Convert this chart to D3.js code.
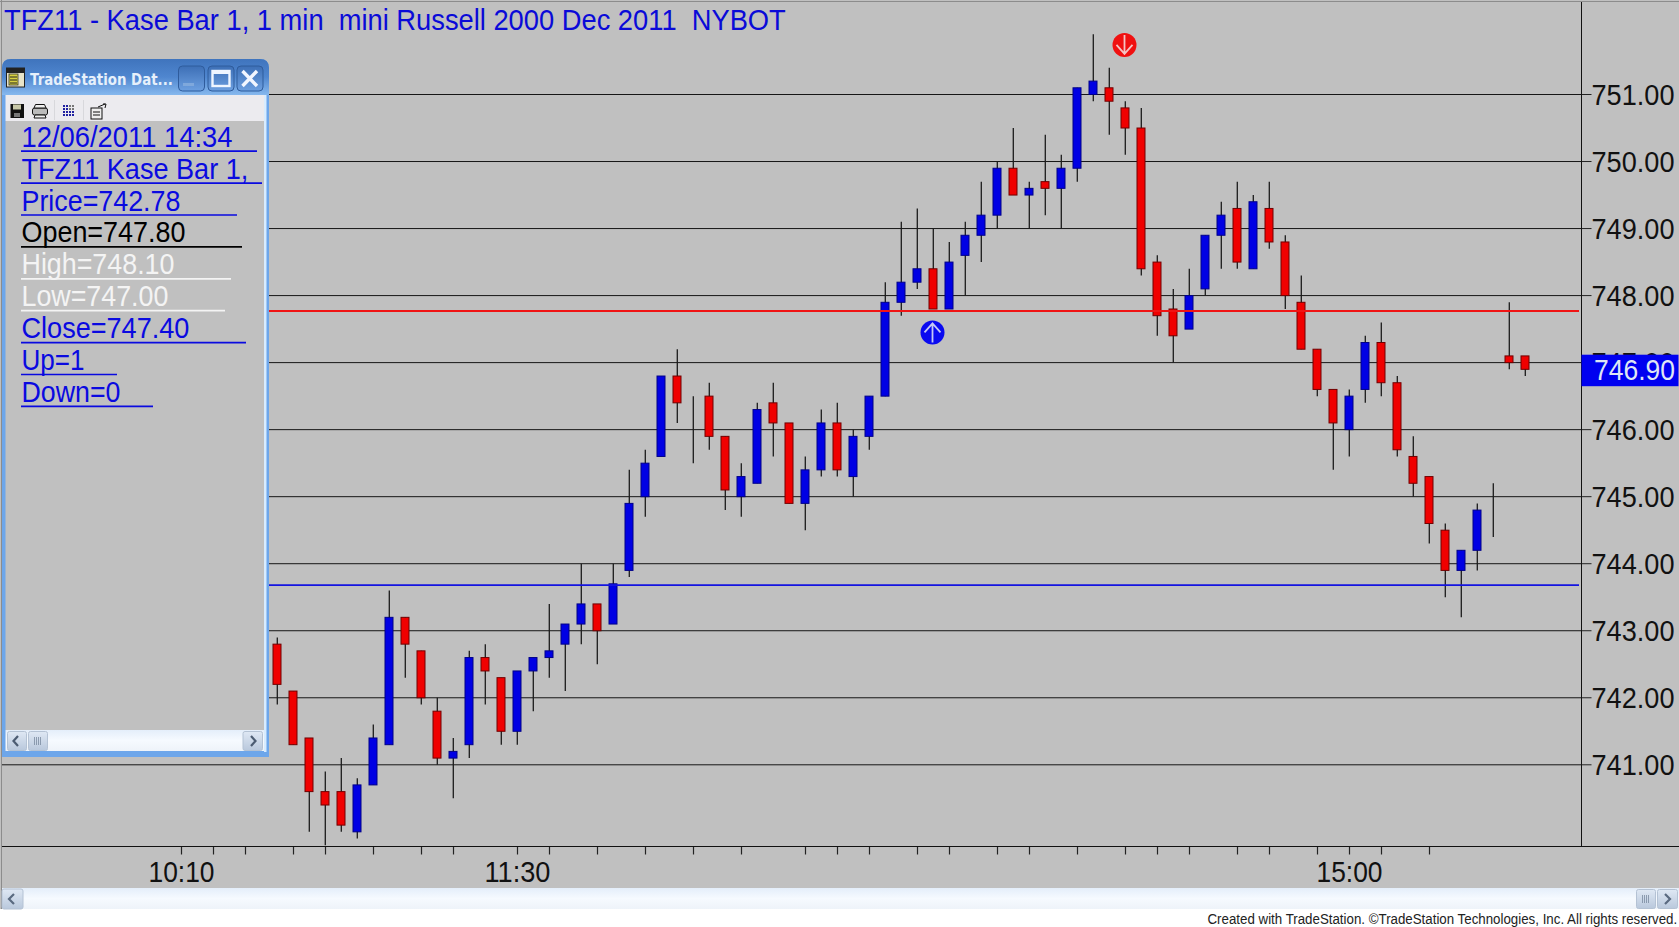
<!DOCTYPE html>
<html>
<head>
<meta charset="utf-8">
<title>TFZ11 Kase Bar</title>
<script src="https://cdn.jsdelivr.net/npm/d3@7/dist/d3.min.js"></script>
<style>
  html, body { margin: 0; padding: 0; background: #fff; overflow: hidden; }
  svg { display: block; }
  text { font-family: "Liberation Sans", Arial, sans-serif; white-space: pre; }
</style>
</head>
<body>
<div id="chart"></div>
<script>
// Values
const highs = [
  742.9,742.1,741.4,740.9,741.1,740.8,741.6,743.6,743.2,742.7,
  742.0,741.4,742.7,742.8,742.3,742.4,742.6,743.4,743.1,744.0,
  743.4,744.0,745.4,745.7,746.8,747.2,746.5,746.7,745.9,745.5,
  746.4,746.7,746.1,745.6,746.3,746.4,746.0,746.5,748.2,749.1,
  749.3,749.0,748.8,749.1,749.7,750.0,750.5,749.7,750.4,750.1,
  751.1,751.9,751.4,750.9,750.8,748.6,748.1,748.4,748.9,749.4,
  749.7,749.5,749.7,748.9,748.3,747.2,746.6,746.6,747.4,747.6,
  746.8,745.9,745.3,744.6,744.2,744.9,745.2,747.9,747.1];
const lows = [
  741.9,741.3,740.0,739.8,740.0,739.9,740.7,741.3,742.3,741.9,
  741.0,740.5,741.1,741.9,741.3,741.3,741.8,742.3,742.1,742.8,
  742.5,743.1,743.8,744.7,745.6,746.1,745.5,745.7,744.8,744.7,
  745.2,745.6,744.9,744.5,745.3,745.3,745.0,745.7,746.5,747.7,
  748.1,747.8,747.8,748.0,748.5,749.0,749.5,749.0,749.2,749.0,
  749.7,750.9,750.4,750.1,748.3,747.4,747.0,747.5,748.0,748.4,
  748.4,748.4,748.7,747.8,747.2,746.5,745.4,745.6,746.4,746.5,
  745.6,745.0,744.3,743.5,743.2,743.9,744.4,746.9,746.8];
const opens = [
  742.8,742.1,741.4,740.6,740.6,740.0,740.7,741.3,743.2,742.7,
  741.8,741.1,741.3,742.6,742.3,741.5,742.4,742.6,742.8,743.1,
  743.4,743.1,743.9,745.0,745.6,746.8,746.4,746.5,745.9,745.0,
  745.2,746.4,746.1,744.9,745.4,746.1,745.3,745.9,746.5,747.9,
  748.2,748.4,747.8,748.6,748.9,749.2,749.9,749.5,749.7,749.6,
  749.9,751.0,751.1,750.8,750.5,748.5,747.8,747.5,748.1,748.9,
  749.3,748.4,749.3,748.8,747.9,747.2,746.6,746.0,746.6,747.3,
  746.7,745.6,745.3,744.5,743.9,744.2,null,747.1,747.1];
const closes = [
  742.2,741.3,740.6,740.4,740.1,740.7,741.4,743.2,742.8,742.0,
  741.1,741.2,742.6,742.4,741.5,742.4,742.6,742.7,743.1,743.4,
  743.0,743.7,744.9,745.5,746.8,746.4,746.4,745.9,745.1,745.3,
  746.3,746.1,744.9,745.4,746.1,745.4,745.9,746.5,747.9,748.2,
  748.4,747.8,748.5,748.9,749.2,749.9,749.5,749.6,749.6,749.9,
  751.1,751.2,750.9,750.5,748.4,747.7,747.4,748.0,748.9,749.2,
  748.5,749.4,748.8,748.0,747.2,746.6,746.1,746.5,747.3,746.7,
  745.7,745.2,744.6,743.9,744.2,744.8,null,747.0,746.9];

const priceTicks = [741, 742, 743, 744, 745, 746, 747, 748, 749, 750, 751];
const timeTicks = [-6,-4,-2,1,3,6,9,11,15,17,20,23,26,29,33,35,37,40,42,45,47,50,53,55,57,60,62,65,67,69,72];
const timeLabels = { "-6": "10:10", "15": "11:30", "67": "15:00" };
const resistance = 747.77;
const support = 743.68;
const lastPrice = 746.90;
const upSignal = { bar: 41, price: 747.45 };
const downSignal = { bar: 53, price: 751.74 };

const chartTitle = "TFZ11 - Kase Bar 1, 1 min  mini Russell 2000 Dec 2011  NYBOT";
const panelRows = ["12/06/2011 14:34", "TFZ11 Kase Bar 1,", "Price=742.78", "Open=747.80", "High=748.10", "Low=747.00", "Close=747.40", "Up=1", "Down=0"];
const panelColors = ["#0a0ae0", "#0a0ae0", "#0a0ae0", "#000", "#f4f4f4", "#f4f4f4", "#0a0ae0", "#0a0ae0", "#0a0ae0"];
const panelUnderlineEnds = [257, 262, 237, 242, 231, 225, 246, 117, 153];
const panelTextWidths = [211, 227, 159, 164, 153, 147, 168, 63, 99];

const width = 1679, height = 927;
const axisX = 1581.5, axisY = 846.5;

const svg = d3.select("#chart").append("svg").attr("width", width).attr("height", height);

const x = d3.scaleLinear().domain([0, 78]).range([277, 1525]);
const y = d3.scaleLinear().domain([741, 751]).range([764.8, 94.5]);

// The screenshot's text is taller than it is wide, so squeeze it sideways to the measured width
function squeeze(sel, tx, ty, w) {
  sel.each(function(d, i) {
    const target = typeof w === "function" ? w(d, i) : w;
    const yPos = typeof ty === "function" ? ty(d, i) : ty;
    const s = target / this.getComputedTextLength();
    d3.select(this).attr("x", 0).attr("y", 0).attr("dy", 0)
      .attr("transform", `translate(${tx},${yPos}) scale(${s},1)`);
  });
}

const defs = svg.append("defs");
function gradient(id, stops) {
  const g = defs.append("linearGradient").attr("id", id).attr("x1", 0).attr("y1", 0).attr("x2", 0).attr("y2", 1);
  stops.forEach((c, i) => g.append("stop").attr("offset", i / (stops.length - 1)).attr("stop-color", c));
}
gradient("titleGrad", ["#3f74bd", "#4f86cf", "#86b8ee"]);
gradient("scrollGrad", ["#e4eefa", "#f6faff", "#eef3f9"]);
gradient("buttonGrad", ["#dfe8f4", "#b9c8dc"]);
gradient("btnBlue", ["#3d6fb6", "#6c9fe0"]);

// Background
svg.append("rect").attr("width", width).attr("height", 909).attr("fill", "#c0c0c0");
svg.append("line").attr("x1", 0).attr("x2", width).attr("y1", 1.5).attr("y2", 1.5).attr("stroke", "#8c8c8c");
svg.append("line").attr("x1", 1.5).attr("x2", 1.5).attr("y1", 0).attr("y2", 909).attr("stroke", "#8c8c8c");

// Title
svg.append("text")
  .attr("font-size", 29).attr("fill", "#0a0ad8")
  .text(chartTitle)
  .call(squeeze, 4, 29.5, 782);

// Grid lines
svg.append("g").selectAll("line").data(priceTicks).join("line")
  .attr("x1", 2).attr("x2", axisX)
  .attr("y1", d => y(d)).attr("y2", d => y(d))
  .attr("stroke", "#161616").attr("stroke-width", 1);

// Axes
const yAxis = d3.axisRight(y).tickValues(priceTicks).tickFormat(d3.format(".2f")).tickSize(10).tickPadding(0).offset(0);
const yAxisG = svg.append("g").attr("transform", `translate(${axisX},0)`).call(yAxis);
yAxisG.select(".domain").remove();
yAxisG.selectAll("line").attr("stroke", "#222");
yAxisG.selectAll("text")
  .attr("font-size", 30).attr("font-family", "Liberation Sans").attr("fill", "#111")
  .call(squeeze, 10, 10, 83);
svg.append("line").attr("x1", axisX).attr("x2", axisX).attr("y1", 2).attr("y2", axisY).attr("stroke", "#111").attr("stroke-width", 1);

const xAxis = d3.axisBottom(x).tickValues(timeTicks).tickFormat(d => timeLabels[d] || "").tickSize(8).tickPadding(0);
const xAxisG = svg.append("g").attr("transform", `translate(0,${axisY})`).call(xAxis);
xAxisG.select(".domain").remove();
xAxisG.selectAll("line").attr("stroke", "#222").attr("stroke-width", 1.2);
xAxisG.selectAll("text")
  .attr("font-size", 30).attr("font-family", "Liberation Sans").attr("fill", "#111")
  .filter(d => timeLabels[d])
  .call(squeeze, 0, 35, 66);
svg.append("line").attr("x1", 2).attr("x2", width).attr("y1", axisY).attr("y2", axisY).attr("stroke", "#111");

// Candles
const bars = highs.map((h, i) => ({ i, h, l: lows[i], o: opens[i], c: closes[i] }));
const candle = svg.append("g").selectAll("g").data(bars).join("g");

candle.append("line")
  .attr("x1", d => x(d.i) + 0.3).attr("x2", d => x(d.i) + 0.3)
  .attr("y1", d => y(d.h)).attr("y2", d => y(d.l))
  .attr("stroke", "#1c1c1c").attr("stroke-width", 1.3);

const bodies = candle.filter(d => d.o !== null);
bodies.append("rect")
  .attr("x", d => x(d.i) - 4).attr("width", 8)
  .attr("y", d => y(Math.max(d.o, d.c)))
  .attr("height", d => Math.abs(y(d.o) - y(d.c)))
  .attr("fill", d => d.c > d.o ? "#0000e4" : "#f00000")
  .attr("stroke", d => d.c > d.o ? "#000088" : "#700000")
  .attr("stroke-width", 1);

// Support and resistance lines, over the bars where they cross
svg.append("line").attr("x1", 2).attr("x2", 1579)
  .attr("y1", y(resistance)).attr("y2", y(resistance))
  .attr("stroke", "#f01414").attr("stroke-width", 1.8);
svg.append("line").attr("x1", 2).attr("x2", 1579)
  .attr("y1", y(support)).attr("y2", y(support))
  .attr("stroke", "#1414e0").attr("stroke-width", 1.8);

// Signal arrows
function signal(s, color, arrow, dir) {
  const g = svg.append("g").attr("transform", `translate(${x(s.bar) - 0.5},${y(s.price)})`);
  g.append("circle").attr("r", 12).attr("fill", color);
  g.append("path")
    .attr("d", `M0,${-9 * dir}L0,${10 * dir}M${-8},${0}L0,${-9 * dir}L8,${0}`)
    .attr("fill", "none").attr("stroke", arrow).attr("stroke-width", 1.8);
}
signal(upSignal, "#0a0af0", "#c4c8f4", 1);
signal(downSignal, "#f01010", "#f4c4c4", -1);

// Last price tag
svg.append("rect").attr("x", axisX).attr("y", 354.7).attr("width", 97).attr("height", 31.5).attr("fill", "#0000f0");
svg.append("text")
  .attr("font-size", 30).attr("fill", "#dfe6f4")
  .text(d3.format(".2f")(lastPrice))
  .call(squeeze, 1594, y(lastPrice) + 11, 81);

// Bottom scroll bar and footer
svg.append("rect").attr("x", 2).attr("y", 888).attr("width", width - 2).attr("height", 21).attr("fill", "url(#scrollGrad)");
svg.append("rect").attr("x", 2).attr("y", 889).attr("width", 21).attr("height", 20).attr("rx", 2).attr("fill", "url(#buttonGrad)").attr("stroke", "#b4c2d4");
svg.append("path").attr("d", "M14,894L9,899L14,904").attr("fill", "none").attr("stroke", "#5a6a80").attr("stroke-width", 2.2);
svg.append("rect").attr("x", 1636.5).attr("y", 889.5).attr("width", 19).attr("height", 19).attr("rx", 2).attr("fill", "url(#buttonGrad)").attr("stroke", "#b4c2d4");
svg.append("path").attr("d", "M1642.5,895v8M1644.5,895v8M1646.5,895v8M1648.5,895v8").attr("stroke", "#7a8aa0").attr("stroke-width", 0.8);
svg.append("rect").attr("x", 1657.5).attr("y", 889.5).attr("width", 20).attr("height", 19).attr("rx", 2).attr("fill", "url(#buttonGrad)").attr("stroke", "#b4c2d4");
svg.append("path").attr("d", "M1665,894L1670,899L1665,904").attr("fill", "none").attr("stroke", "#5a6a80").attr("stroke-width", 2.2);
svg.append("text")
  .attr("font-size", 15).attr("fill", "#222")
  .text("Created with TradeStation. ©TradeStation Technologies, Inc. All rights reserved.")
  .call(squeeze, 1207.5, 924, 470);

// Data window sitting over the chart
const win = svg.append("g");
win.append("path")
  .attr("d", "M2,757V68Q2,59 11,59H260Q269,59 269,68V757Z")
  .attr("fill", "#6da6ea");
win.append("path")
  .attr("d", "M2,95V68Q2,59 11,59H260Q269,59 269,68V95Z")
  .attr("fill", "url(#titleGrad)");
win.append("rect").attr("x", 264).attr("y", 95).attr("width", 2.5).attr("height", 657).attr("fill", "#d8ecff");
win.append("rect").attr("x", 5.5).attr("y", 95).attr("width", 258.5).attr("height", 26).attr("fill", "#ecebef");
win.append("rect").attr("x", 5.5).attr("y", 121).attr("width", 258.5).attr("height", 609).attr("fill", "#c0c0c0");
win.append("rect").attr("x", 5.5).attr("y", 730).attr("width", 258.5).attr("height", 21).attr("fill", "url(#scrollGrad)");

// Title bar
win.append("rect").attr("x", 6.5).attr("y", 68).attr("width", 18).attr("height", 19).attr("fill", "#e8e4c8").attr("stroke", "#222");
win.append("rect").attr("x", 6.5).attr("y", 68).attr("width", 18).attr("height", 5).attr("fill", "#222");
win.append("rect").attr("x", 9).attr("y", 74).attr("width", 9).attr("height", 11).attr("fill", "#d8d040").attr("stroke", "#333").attr("stroke-width", 0.8);
win.append("path").attr("d", "M10,77H17M10,80H17M10,83H17").attr("stroke", "#222").attr("stroke-width", 1);
win.append("text")
  .attr("font-size", 15).attr("font-weight", "bold")
  .attr("style", "font-family:'DejaVu Sans'")
  .attr("fill", "#e6f0fb")
  .text("TradeStation Dat...")
  .call(squeeze, 30, 85, 143);
[178.5, 208, 237].forEach(bx => {
  win.append("rect").attr("x", bx).attr("y", 66).attr("width", 26).attr("height", 25).attr("rx", 4)
    .attr("fill", "url(#btnBlue)").attr("stroke", "#2f5c9c");
});
win.append("rect").attr("x", 183).attr("y", 83).attr("width", 11).attr("height", 3).attr("fill", "#7fa8dc");
win.append("rect").attr("x", 212.5).attr("y", 71).attr("width", 17).attr("height", 15).attr("fill", "none").attr("stroke", "#eef5ff").attr("stroke-width", 2.4);
win.append("rect").attr("x", 212.5).attr("y", 71).attr("width", 17).attr("height", 3).attr("fill", "#eef5ff");
win.append("path").attr("d", "M242.5,71L257,86M257,71L242.5,86").attr("stroke", "#f2f6ff").attr("stroke-width", 3.4);

// Toolbar icons
win.append("rect").attr("x", 10.5).attr("y", 104).attr("width", 13.5).attr("height", 14).attr("fill", "#111");
win.append("rect").attr("x", 13).attr("y", 104.5).attr("width", 8).attr("height", 5).attr("fill", "#c8c8a8");
win.append("rect").attr("x", 14).attr("y", 113).attr("width", 6).attr("height", 4).attr("fill", "#777");
win.append("rect").attr("x", 32.5).attr("y", 108).attr("width", 15).attr("height", 7).attr("rx", 2).attr("fill", "#bbb").attr("stroke", "#111");
win.append("path").attr("d", "M35.5,104.5H44.5L46,108H34ZM35,115H45L46,118H34Z").attr("fill", "#eee").attr("stroke", "#111").attr("stroke-width", 1);
win.append("line").attr("x1", 54.5).attr("x2", 54.5).attr("y1", 100).attr("y2", 120).attr("stroke", "#d8d8dc");
d3.range(4).forEach(r => d3.range(4).forEach(c => {
  win.append("rect").attr("x", 63 + c * 3).attr("y", 105 + r * 3).attr("width", 2).attr("height", 2)
    .attr("fill", c > 1 && r < 2 ? "#777" : "#2020a0");
}));
win.append("line").attr("x1", 83.5).attr("x2", 83.5).attr("y1", 100).attr("y2", 120).attr("stroke", "#d8d8dc");
win.append("rect").attr("x", 91).attr("y", 108).attr("width", 11).attr("height", 11).attr("fill", "#eee").attr("stroke", "#111");
win.append("path").attr("d", "M93,112H100M93,115H100M98,107L105,104M103,104L106,104L105,108").attr("fill", "none").attr("stroke", "#111");

// Panel text with underlines running past the text
const rowY = i => 146.7 + i * 31.9;
const rows = win.append("g").selectAll("g").data(panelRows).join("g");
rows.append("text")
  .attr("font-size", 29).attr("fill", (d, i) => panelColors[i])
  .text(d => d)
  .call(squeeze, 21.5, (d, i) => rowY(i), (d, i) => panelTextWidths[i]);
rows.append("line")
  .attr("x1", 21).attr("x2", (d, i) => panelUnderlineEnds[i])
  .attr("y1", (d, i) => rowY(i) + 4.5).attr("y2", (d, i) => rowY(i) + 4.5)
  .attr("stroke", (d, i) => panelColors[i]).attr("stroke-width", 1.7);

// Panel scroll bar
win.append("rect").attr("x", 7.5).attr("y", 731.5).attr("width", 19).attr("height", 19).attr("rx", 2).attr("fill", "url(#buttonGrad)").attr("stroke", "#b4c2d4");
win.append("path").attr("d", "M18,736L13.5,741L18,746").attr("fill", "none").attr("stroke", "#4c5c72").attr("stroke-width", 2.2);
win.append("rect").attr("x", 28.5).attr("y", 731.5).attr("width", 19).attr("height", 19).attr("rx", 2).attr("fill", "url(#buttonGrad)").attr("stroke", "#b4c2d4");
win.append("path").attr("d", "M34.5,737v8M36.5,737v8M38.5,737v8M40.5,737v8").attr("stroke", "#7a8aa0").attr("stroke-width", 0.8);
win.append("rect").attr("x", 243).attr("y", 731.5).attr("width", 19.5).attr("height", 19).attr("rx", 2).attr("fill", "url(#buttonGrad)").attr("stroke", "#b4c2d4");
win.append("path").attr("d", "M251,736L255.5,741L251,746").attr("fill", "none").attr("stroke", "#4c5c72").attr("stroke-width", 2.2);
</script>
</body>
</html>
